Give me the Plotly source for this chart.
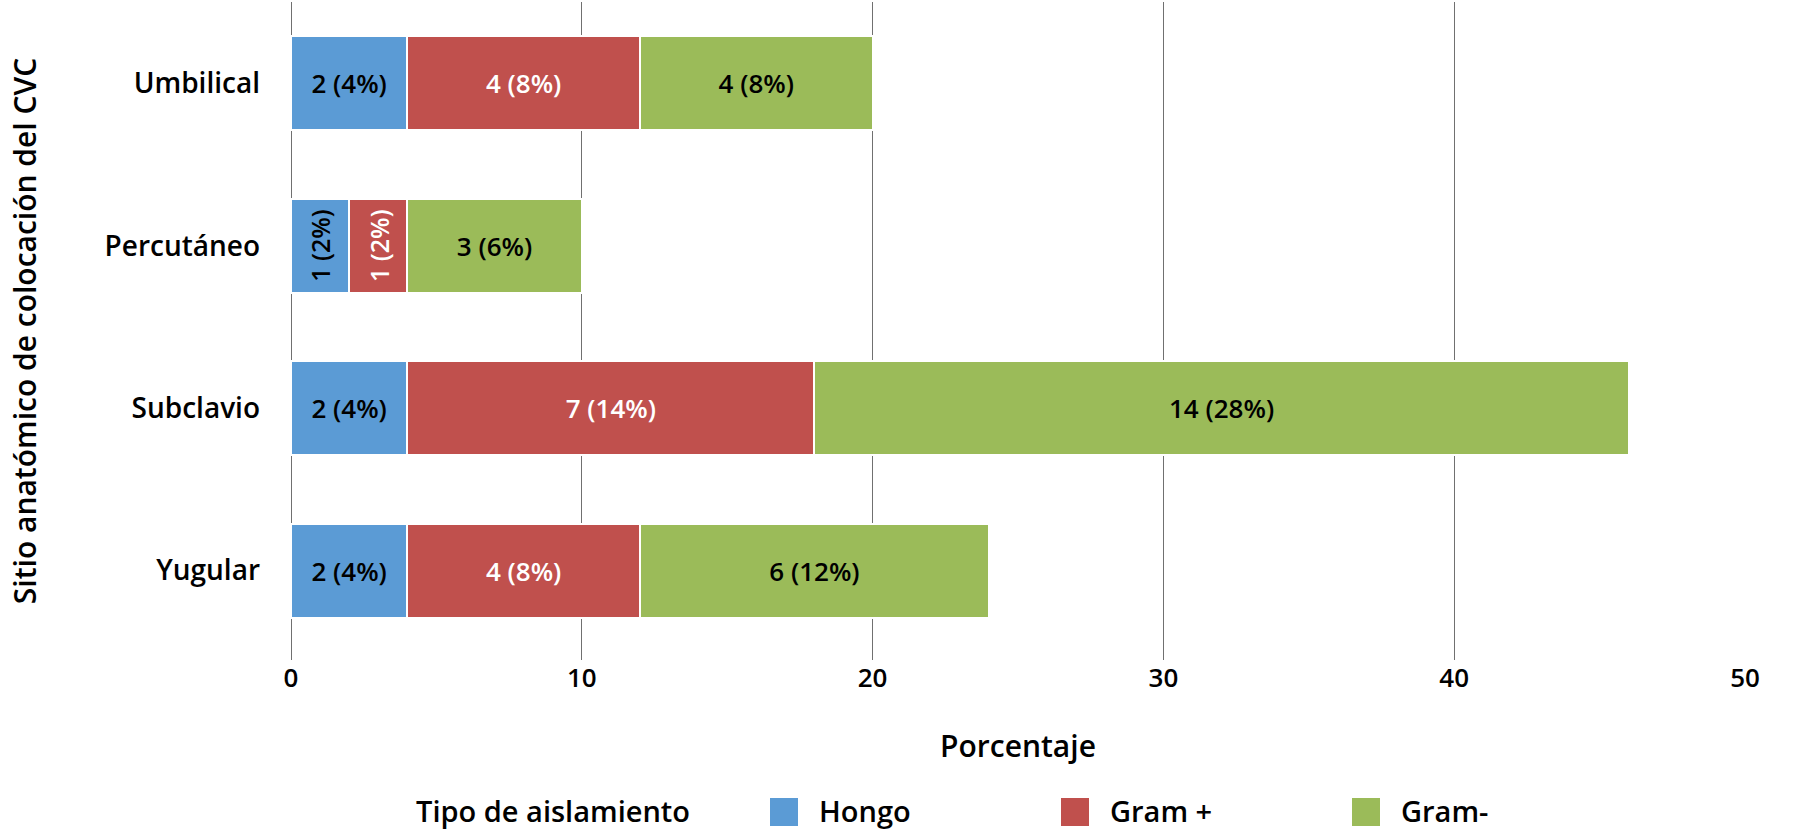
import plotly.graph_objects as go

# data
sitios = ["Umbilical", "Percutáneo", "Subclavio", "Yugular"]
tipos = ["Hongo", "Gram +", "Gram-"]
conteos = {
    "Hongo": [2, 1, 2, 2],
    "Gram +": [4, 1, 7, 4],
    "Gram-": [4, 3, 14, 6],
}
porcentajes = {
    "Hongo": [4, 2, 4, 4],
    "Gram +": [8, 2, 14, 8],
    "Gram-": [8, 6, 28, 12],
}
colores = {"Hongo": "#5B9BD5", "Gram +": "#C0504D", "Gram-": "#9BBB59"}
color_texto = {"Hongo": "black", "Gram +": "white", "Gram-": "black"}

# bars too narrow for horizontal text get rotated annotations instead
rotados = ["Percutáneo"]

FONT = "Open Sans"
PESO = 600
W, H = 1800, 833
M = dict(l=291, r=55, t=2, b=173)


def px_to_paper(xp, yp):
    # pixel position on the page -> paper coordinates (for the legend box)
    pw = W - M["l"] - M["r"]
    ph = H - M["t"] - M["b"]
    return (xp - M["l"]) / pw, (H - M["b"] - yp) / ph


fig = go.Figure()
base = [0] * len(sitios)
anotaciones = []
for t in tipos:
    etiquetas = []
    for i, s in enumerate(sitios):
        lbl = f"{conteos[t][i]} ({porcentajes[t][i]}%)"
        if s in rotados and porcentajes[t][i] < 5:
            etiquetas.append("")
            anotaciones.append(dict(
                x=base[i] + porcentajes[t][i] / 2, y=s, text=lbl,
                textangle=-90, showarrow=False,
                font=dict(family=FONT, size=25, weight=PESO, color=color_texto[t]),
            ))
        else:
            etiquetas.append(lbl)
    fig.add_trace(go.Bar(
        y=sitios, x=porcentajes[t], name=t, orientation="h",
        marker=dict(color=colores[t], line=dict(color="white", width=2)),
        text=etiquetas, textposition="inside", insidetextanchor="middle",
        textangle=0, showlegend=False,
        textfont=dict(family=FONT, size=26, weight=PESO, color=color_texto[t]),
    ))
    base = [b + p for b, p in zip(base, porcentajes[t])]

# legend drawn by hand so the swatches can be as big as in the original
formas = []
lx, ly = px_to_paper(414, 810)
anotaciones.append(dict(
    x=lx, y=ly, xref="paper", yref="paper", xanchor="left", yanchor="middle",
    text="Tipo de aislamiento", showarrow=False,
    font=dict(family=FONT, size=29, weight=PESO, color="black"),
))
for k, t in enumerate(tipos):
    x0 = 770 + 291 * k
    ax0, ay0 = px_to_paper(x0, 826)
    ax1, ay1 = px_to_paper(x0 + 28, 798)
    formas.append(dict(type="rect", xref="paper", yref="paper",
                       x0=ax0, x1=ax1, y0=ay0, y1=ay1,
                       fillcolor=colores[t], line=dict(width=0)))
    tx, ty = px_to_paper(x0 + 47, 810)
    anotaciones.append(dict(
        x=tx, y=ty, xref="paper", yref="paper", xanchor="left", yanchor="middle",
        text=t, showarrow=False,
        font=dict(family=FONT, size=29, weight=PESO, color="black"),
    ))

fig.update_layout(
    barmode="stack",
    bargap=0.42,
    width=W, height=H,
    margin=M,
    plot_bgcolor="white", paper_bgcolor="white",
    font=dict(family=FONT, size=26, weight=PESO, color="black"),
    annotations=anotaciones,
    shapes=formas,
    showlegend=False,
)
fig.update_xaxes(
    range=[0, 50], dtick=10, showgrid=True, gridcolor="#707070", gridwidth=1,
    zeroline=True, zerolinecolor="#707070", zerolinewidth=1, showline=False,
    tickfont=dict(size=26), ticks="",
    title=dict(text="Porcentaje", font=dict(size=30), standoff=41),
)
fig.update_yaxes(
    range=[3.55, -0.5], showgrid=False, showline=False, ticks="",
    tickfont=dict(size=28), ticklabelstandoff=30,
    title=dict(text="Sitio anatómico de colocación del CVC", font=dict(size=30), standoff=59),
)

# the page's default 8px body margin would shift everything
fig.write_html("out.html", config={"displayModeBar": False},
               post_script="document.body.style.margin='0px';")
